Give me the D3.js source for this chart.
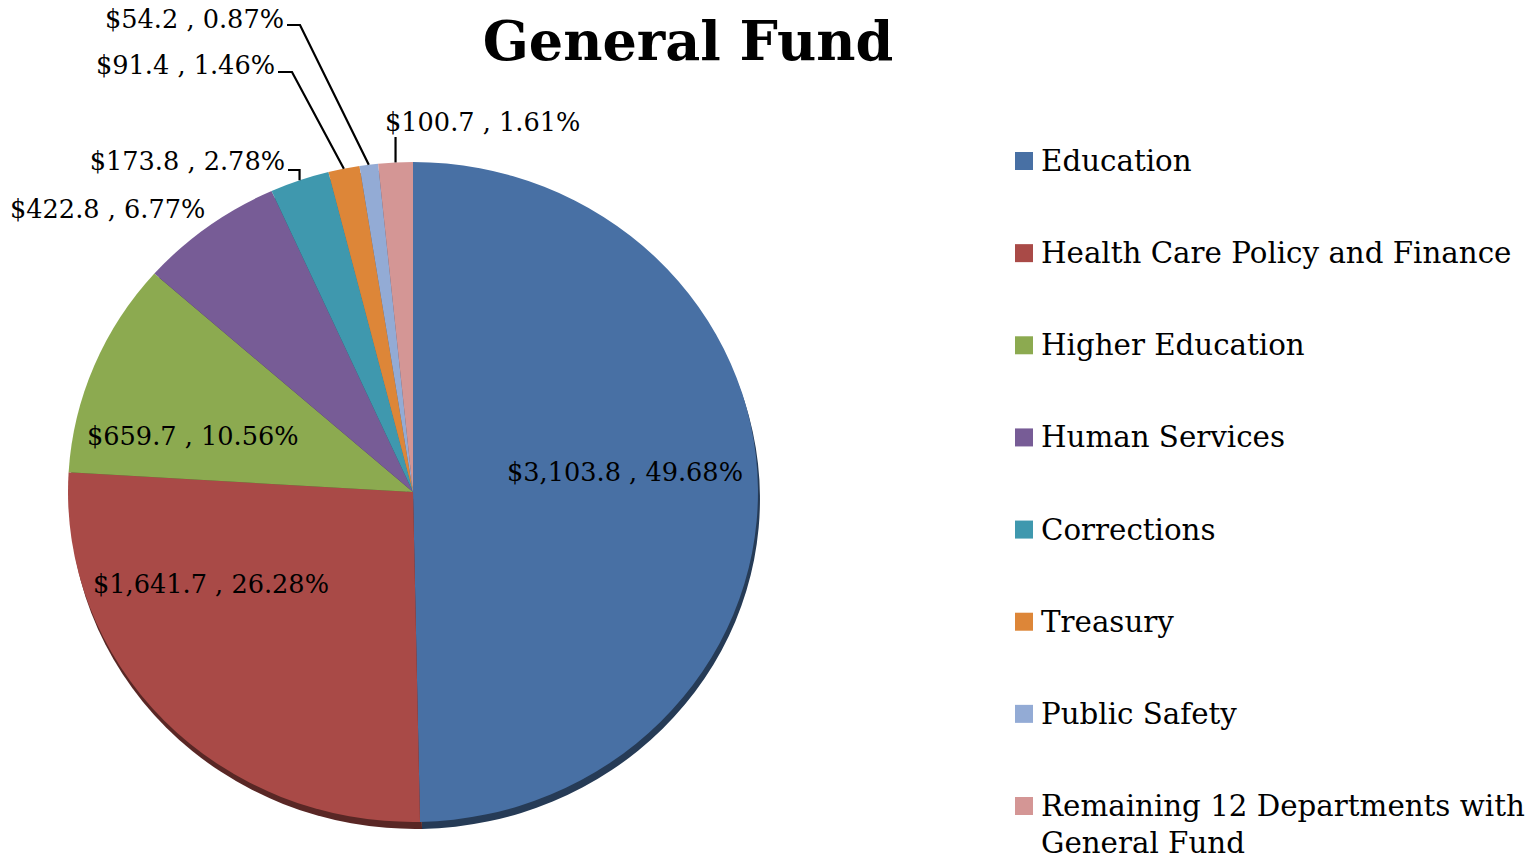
<!DOCTYPE html>
<html>
<head>
<meta charset="utf-8">
<script src="https://cdn.jsdelivr.net/npm/d3@7"></script>
<style>
  body { margin: 0; background: #fff; }
  svg { display: block; }
  text { font-family: "DejaVu Serif", serif; fill: #000; }
</style>
</head>
<body>
<div id="container"></div>
<script>
// data ($ millions, share of total)
const departments = ['Education', 'Health Care Policy and Finance', 'Higher Education',
  'Human Services', 'Corrections', 'Treasury', 'Public Safety',
  'Remaining 12 Departments with General Fund'];
const amounts = [3103.8, 1641.7, 659.7, 422.8, 173.8, 91.4, 54.2, 100.7];
const shares = [49.68, 26.28, 10.56, 6.77, 2.78, 1.46, 0.87, 1.61];
const amountLabels = ['$3,103.8', '$1,641.7', '$659.7', '$422.8', '$173.8', '$91.4', '$54.2', '$100.7'];

const colors = ['#4870a4', '#a94a47', '#8caa50', '#775c96', '#3f98ae', '#dd8638', '#93abd5', '#d49695'];

const width = 1540, height = 859;
const cx = 413, cy = 492, rx = 345, ry = 330;

// where Excel put each label (text start/end, baseline) and optional leader knee
const labelLayout = [
  {x: 507, y: 481, anchor: 'start'},
  {x: 93, y: 593, anchor: 'start'},
  {x: 87, y: 445, anchor: 'start'},
  {x: 10, y: 218, anchor: 'start'},
  {x: 285, y: 170, anchor: 'end', knee: [288, 170], kneeX: true},
  {x: 275, y: 74, anchor: 'end', knee: [278, 72], bend: [292, 72]},
  {x: 284, y: 28, anchor: 'end', knee: [287, 25], bend: [300, 25]},
  {x: 385, y: 131, anchor: 'start', knee: [397, 137], kneeX: true}
];

const svg = d3.select('#container').append('svg')
  .attr('width', width).attr('height', height);

svg.append('text')
  .attr('x', 688).attr('y', 60)
  .attr('text-anchor', 'middle')
  .style('font-size', '54px').style('font-weight', 'bold')
  .text('General Fund');

const pie = d3.pie().sort(null).value(d => d);
const arcs = pie(amounts);
const arc = d3.arc().innerRadius(0).outerRadius(rx);

// 3d-ish shadow edge under the pie
svg.append('g')
  .attr('transform', `translate(${cx + 2},${cy + 7}) scale(1,${ry / rx})`)
  .selectAll('path')
  .data(arcs)
  .enter()
  .append('path')
  .attr('d', arc)
  .attr('fill', (d, i) => d3.color(colors[i]).darker(1.8));

svg.append('g')
  .attr('transform', `translate(${cx},${cy}) scale(1,${ry / rx})`)
  .selectAll('path')
  .data(arcs)
  .enter()
  .append('path')
  .attr('d', arc)
  .attr('fill', (d, i) => colors[i]);

// leader lines go to the middle of the slice rim
const rimPoint = d => {
  let a = (d.startAngle + d.endAngle) / 2;
  return [cx + rx * Math.sin(a), cy - ry * Math.cos(a)];
};

arcs.forEach((d, i) => {
  let lay = labelLayout[i];
  if (!lay.knee) return;
  let p = rimPoint(d);
  let pts;
  if (lay.kneeX) {
    // horizontal stub then straight down
    pts = lay.anchor == 'end'
      ? [lay.knee, [p[0], lay.knee[1]], p]
      : [[p[0], lay.knee[1]], p];
  } else {
    pts = [lay.knee, lay.bend, p];
  }
  svg.append('path')
    .attr('d', d3.line()(pts))
    .attr('fill', 'none')
    .attr('stroke', '#000')
    .attr('stroke-width', 2.2);
});

svg.append('g')
  .selectAll('text')
  .data(arcs)
  .enter()
  .append('text')
  .attr('x', (d, i) => labelLayout[i].x)
  .attr('y', (d, i) => labelLayout[i].y)
  .attr('text-anchor', (d, i) => labelLayout[i].anchor)
  .style('font-size', '25.6px')
  .text((d, i) => `${amountLabels[i]} , ${shares[i].toFixed(2)}%`);

// legend
const yLegend = d3.scalePoint().domain(departments).range([161, 806]);

const legend = svg.append('g')
  .selectAll('g')
  .data(departments)
  .enter()
  .append('g')
  .attr('transform', d => `translate(1015,${yLegend(d)})`);

legend.append('rect')
  .attr('x', 0).attr('y', -9)
  .attr('width', 18).attr('height', 18)
  .attr('fill', (d, i) => colors[i]);

legend.append('text')
  .attr('x', 26).attr('y', 10)
  .style('font-size', '29.3px')
  .each(function (d) {
    let t = d3.select(this);
    let parts = d == departments[7] ? ['Remaining 12 Departments with', 'General Fund'] : [d];
    parts.forEach((p, j) => {
      t.append('tspan').attr('x', 26).attr('dy', j ? 37 : 0).text(p);
    });
  });
</script>
</body>
</html>
